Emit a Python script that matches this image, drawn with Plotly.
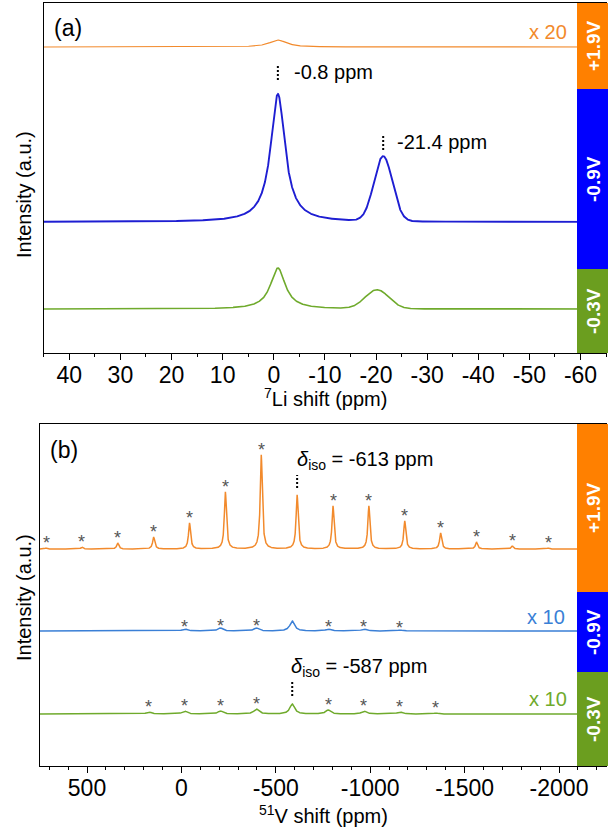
import numpy as np
import plotly.graph_objects as go

W, H = 608, 830
FONT = "Liberation Sans, Arial, sans-serif"

# ---------------- Panel (a): 7Li MAS NMR ----------------
li_labels = ["+1.9V", "-0.9V", "-0.3V"]
li_baseline = [306, 131, 44]
li_peak_pos = [[-0.8], [-0.8, -21.4], [-0.8, -20.2]]
li_peak_height = [[7], [128, 65], [41, 19]]
li_peak_width = [[2.0], [1.7, 1.8], [1.75, 2.3]]  # HWHM (L) or sigma (G), ppm
li_peak_shape = [["L"], ["L", "G"], ["L", "G"]]
li_tick_vals = [40, 30, 20, 10, 0, -10, -20, -30, -40, -50, -60]
li_tick_text = ["40", "30", "20", "10", "0", "-10", "-20", "-30", "-40", "-50", "-60"]
li_mark_pos = [-0.8, -21.4]
li_mark_text = ["-0.8 ppm", "-21.4 ppm"]

# ---------------- Panel (b): 51V MAS NMR ----------------
v_labels = ["+1.9V", "-0.9V", "-0.3V"]
v_baseline = [217, 135, 52]
v_iso = [-613, -587, -587]
v_sideband_spacing = 190
# sideband order n -> position iso + n*spacing ; listed left (high ppm) to right
v_orange_orders = [7, 6, 5, 4, 3, 2, 1, 0, -1, -2, -3, -4, -5, -6, -7]
v_orange_heights = [1, 2, 6, 12, 26, 57, 94, 54, 43, 43, 28, 16, 7, 3, 1]
v_blue_orders = [3, 2, 1, 0, -1, -2, -3]
v_blue_heights = [2, 3, 3, 10, 2, 2, 1]
v_green_orders = [4, 3, 2, 1, 0, -1, -2, -3, -4]
v_green_heights = [2, 3, 3, 5, 10, 4, 3, 2, 1]
v_peak_hwhm = [6.5, 15, 15]
v_tick_vals = [500, 0, -500, -1000, -1500, -2000]
v_tick_text = ["500", "0", "-500", "-1000", "-1500", "-2000"]
v_scale_text = ["", "x 10", "x 10"]

# ---------------- styles ----------------
C_OR_LINE = "#F28A2C"
C_BL_LINE_A = "#1E1ED2"
C_BL_LINE_B = "#3A7FD6"
C_GR_LINE = "#6FAA2C"
C_OR_BAR = "#FF8000"
C_BL_BAR = "#0000FF"
C_GR_BAR = "#6B9E1F"
STAR_C = "#555555"


def lorentz(x, x0, h, g):
    return h / (1.0 + ((x - x0) / g) ** 2)


def gauss(x, x0, h, s):
    return h * np.exp(-0.5 * ((x - x0) / s) ** 2)


def px(x):
    return x / W


def py(y):
    return 1 - y / H


fig = go.Figure()

# panel (a) traces
li_x = np.linspace(45, -65, 4401)
li_colors = [C_OR_LINE, C_BL_LINE_A, C_GR_LINE]
li_widths = [1.2, 1.9, 1.6]
for i in range(3):
    y = np.full_like(li_x, float(li_baseline[i]))
    for p, h, w, s in zip(li_peak_pos[i], li_peak_height[i], li_peak_width[i], li_peak_shape[i]):
        y = y + (lorentz(li_x, p, h, w) if s == "L" else gauss(li_x, p, h, w))
    fig.add_trace(go.Scatter(x=li_x, y=y, xaxis="x", yaxis="y", mode="lines",
                             line=dict(color=li_colors[i], width=li_widths[i]),
                             hoverinfo="skip", showlegend=False))

# panel (b) traces
v_x = np.linspace(750, -2250, 12001)
v_orders = [v_orange_orders, v_blue_orders, v_green_orders]
v_heights = [v_orange_heights, v_blue_heights, v_green_heights]
v_colors = [C_OR_LINE, C_BL_LINE_B, C_GR_LINE]
star_offsets = [9, 6, 9]
annotations = []
for i in range(3):
    y = np.full_like(v_x, float(v_baseline[i]))
    for n, h in zip(v_orders[i], v_heights[i]):
        pos = v_iso[i] + n * v_sideband_spacing
        y = y + lorentz(v_x, pos, h, v_peak_hwhm[i])
        if n != 0:
            annotations.append(dict(x=pos, y=v_baseline[i] + h + star_offsets[i], xref="x2", yref="y2",
                                    text="*", showarrow=False, yshift=-4,
                                    xanchor="center", yanchor="middle",
                                    font=dict(size=18, color=STAR_C, family=FONT)))
    fig.add_trace(go.Scatter(x=v_x, y=y, xaxis="x2", yaxis="y2", mode="lines",
                             line=dict(color=v_colors[i], width=1.5),
                             hoverinfo="skip", showlegend=False))

# dashed markers
shapes = []
for pos, (y0, y1) in zip(li_mark_pos, [(273, 288), (203, 218)]):
    shapes.append(dict(type="line", xref="x", yref="y", x0=pos, x1=pos, y0=y0, y1=y1,
                       line=dict(color="black", width=2, dash="2px,2px")))
for pos, (y0, y1) in zip([v_iso[0], v_iso[2]], [(278, 291), (70, 84)]):
    shapes.append(dict(type="line", xref="x2", yref="y2", x0=pos, x1=pos, y0=y0, y1=y1,
                       line=dict(color="black", width=2, dash="2px,2px")))

# side colour bars
bar_x0 = 577 / W
for (t, b, c) in [(3, 89, C_OR_BAR), (89, 269, C_BL_BAR), (269, 353, C_GR_BAR),
                  (424, 592, C_OR_BAR), (592, 672, C_BL_BAR), (672, 766, C_GR_BAR)]:
    shapes.append(dict(type="rect", xref="paper", yref="paper", x0=bar_x0, x1=1.0,
                       y0=py(b), y1=py(t), fillcolor=c, line=dict(width=0), layer="above"))

bar_labels = [(46, li_labels[0]), (179, li_labels[1]), (311, li_labels[2]),
              (508, v_labels[0]), (632, v_labels[1]), (719, v_labels[2])]
for yc, t in bar_labels:
    annotations.append(dict(x=px(593), y=py(yc), xref="paper", yref="paper", text="<b>%s</b>" % t,
                            textangle=-90, showarrow=False, xanchor="center", yanchor="middle",
                            font=dict(size=19, color="white", family=FONT)))


# text annotations
def txt(x, y, text, xanchor="left", size=20, color="black"):
    annotations.append(dict(x=px(x), y=py(y), xref="paper", yref="paper", text=text,
                            xanchor=xanchor, yanchor="middle", showarrow=False,
                            font=dict(size=size, color=color, family=FONT)))


txt(52, 28, "(a)", size=23)
txt(48, 450, "(b)", size=23)
txt(569, 32, "x 20", xanchor="right", color=C_OR_LINE)
txt(292, 72, li_mark_text[0])
txt(395, 142, li_mark_text[1])
txt(295, 460, "<i>δ</i><sub>iso</sub> = -613 ppm")
txt(567, 617, v_scale_text[1], xanchor="right", color=C_BL_LINE_B)
txt(289, 667, "<i>δ</i><sub>iso</sub> = -587 ppm")
txt(569, 699, v_scale_text[2], xanchor="right", color=C_GR_LINE)
txt(325, 398, "<sup>7</sup>Li shift (ppm)", xanchor="center")
txt(323, 814, "<sup>51</sup>V shift (ppm)", xanchor="center")
for yc in (195, 598):
    annotations.append(dict(x=px(24), y=py(yc), xref="paper", yref="paper", text="Intensity (a.u.)",
                            textangle=-90, showarrow=False, xanchor="center", yanchor="middle",
                            font=dict(size=20, color="black", family=FONT)))

xcommon = dict(tickmode="array", ticks="outside", ticklen=6, tickwidth=1, tickcolor="black",
               showline=True, linecolor="black", linewidth=1, mirror=True, showgrid=False,
               zeroline=False, ticklabelstandoff=-5,
               tickfont=dict(size=23, family=FONT, color="black"))
ycommon = dict(showticklabels=False, ticks="", showline=True, linecolor="black", linewidth=1,
               mirror=True, showgrid=False, zeroline=False)

fig.update_layout(
    width=W, height=H, margin=dict(l=0, r=0, t=0, b=0),
    paper_bgcolor="white", plot_bgcolor="white", showlegend=False,
    font=dict(family=FONT, size=20, color="black"),
    xaxis=dict(domain=[43.7 / W, 606.1 / W], anchor="y", range=[45, -65],
               tickvals=li_tick_vals, ticktext=li_tick_text,
               minor=dict(tickmode="linear", tick0=0, dtick=5, ticks="outside", ticklen=3,
                          tickcolor="black", showgrid=False), **xcommon),
    yaxis=dict(domain=[py(353), py(3)], anchor="x", range=[0, 350], **ycommon),
    xaxis2=dict(domain=[39.8 / W, 606.2 / W], anchor="y2", range=[750, -2250],
                tickvals=v_tick_vals, ticktext=v_tick_text,
                minor=dict(tickmode="linear", tick0=0, dtick=100, ticks="outside", ticklen=3,
                           tickcolor="black", showgrid=False), **xcommon),
    yaxis2=dict(domain=[py(766), py(424)], anchor="x2", range=[0, 342], **ycommon),
    shapes=shapes, annotations=annotations,
)

fig.write_html("out.html")
